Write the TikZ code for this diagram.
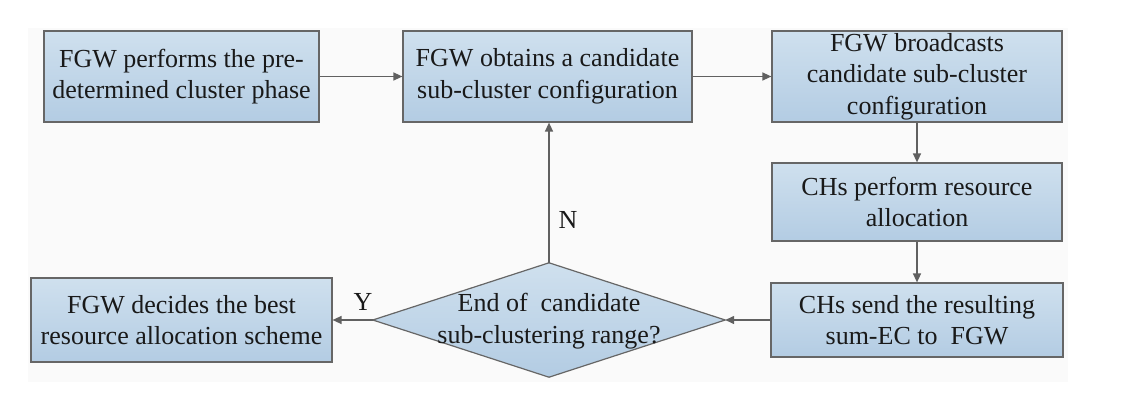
\documentclass[tikz,border=0pt]{standalone}
\usepackage{fontspec}
\setmainfont{Liberation Serif}
\newfontfamily\tnr{Liberation Serif}
\usetikzlibrary{arrows.meta}
\definecolor{boxtop}{HTML}{CFE0EE}
\definecolor{boxbot}{HTML}{B3CCE3}
\definecolor{edgegray}{HTML}{666666}
\definecolor{arrgray}{HTML}{606060}
\definecolor{bggray}{HTML}{FAFAFA}
\tikzset{
  procbox/.style={draw=edgegray, line width=1.2pt, top color=boxtop, bottom color=boxbot,
    align=center, inner sep=0pt, text=black!90, font=\tnr\fontsize{26}{31.5}\selectfont},
  dtext/.style={align=center, inner sep=0pt, text=black!90, font=\tnr\fontsize{26}{31.5}\selectfont},
  flow/.style={draw=arrgray, line width=1.4pt, -{Triangle[length=9pt,width=8pt]}},
  lbl/.style={inner sep=0pt, text=black!90, font=\tnr\fontsize{26}{28}\selectfont}
}
\begin{document}
\begin{tikzpicture}[x=1pt,y=-1pt]
\useasboundingbox (0,0) rectangle (1125,401);
\fill[bggray] (28,28) rectangle (1068,382);
\node[procbox, minimum width=275pt, minimum height=91pt] (b1) at (181.5,76.5) {FGW performs the pre-\\determined cluster phase};
\node[procbox, minimum width=289pt, minimum height=91pt] (b2) at (547.5,76.5) {FGW obtains a candidate\\sub-cluster configuration};
\node[procbox, minimum width=290pt, minimum height=91pt] (b3) at (917,76.5) {FGW broadcasts\\candidate sub-cluster\\configuration};
\node[procbox, minimum width=290pt, minimum height=78pt] (b4) at (917,202) {CHs perform resource\\allocation};
\node[procbox, minimum width=292pt, minimum height=74pt] (b5) at (917,320) {CHs send the resulting\\sum-EC to\ \ FGW};
\node[minimum width=352pt, minimum height=114pt, inner sep=0pt] (d) at (549,320) {};
\shade[top color=boxtop, bottom color=boxbot, draw=edgegray, line width=1.2pt]
  (d.north) -- (d.east) -- (d.south) -- (d.west) -- cycle;
\node[dtext] (dt) at (549,321) {End of\ \ candidate\\sub-clustering range?};
\node[procbox, minimum width=301pt, minimum height=84pt] (b6) at (181.5,320) {FGW decides the best\\resource allocation scheme};
\draw[flow] (b1.east) -- (b2.west);
\draw[flow] (b2.east) -- (b3.west);
\draw[flow] (b3.south) -- (b4.north);
\draw[flow] (b4.south) -- (b5.north);
\draw[flow] (b5.west) -- (d.east);
\draw[flow] (d.west) -- (b6.east);
\draw[flow] (d.north) -- (d.north |- b2.south);
\node[lbl] (n) at (568,220) {N};
\node[lbl] (y) at (363,302) {Y};
\end{tikzpicture}
\end{document}
